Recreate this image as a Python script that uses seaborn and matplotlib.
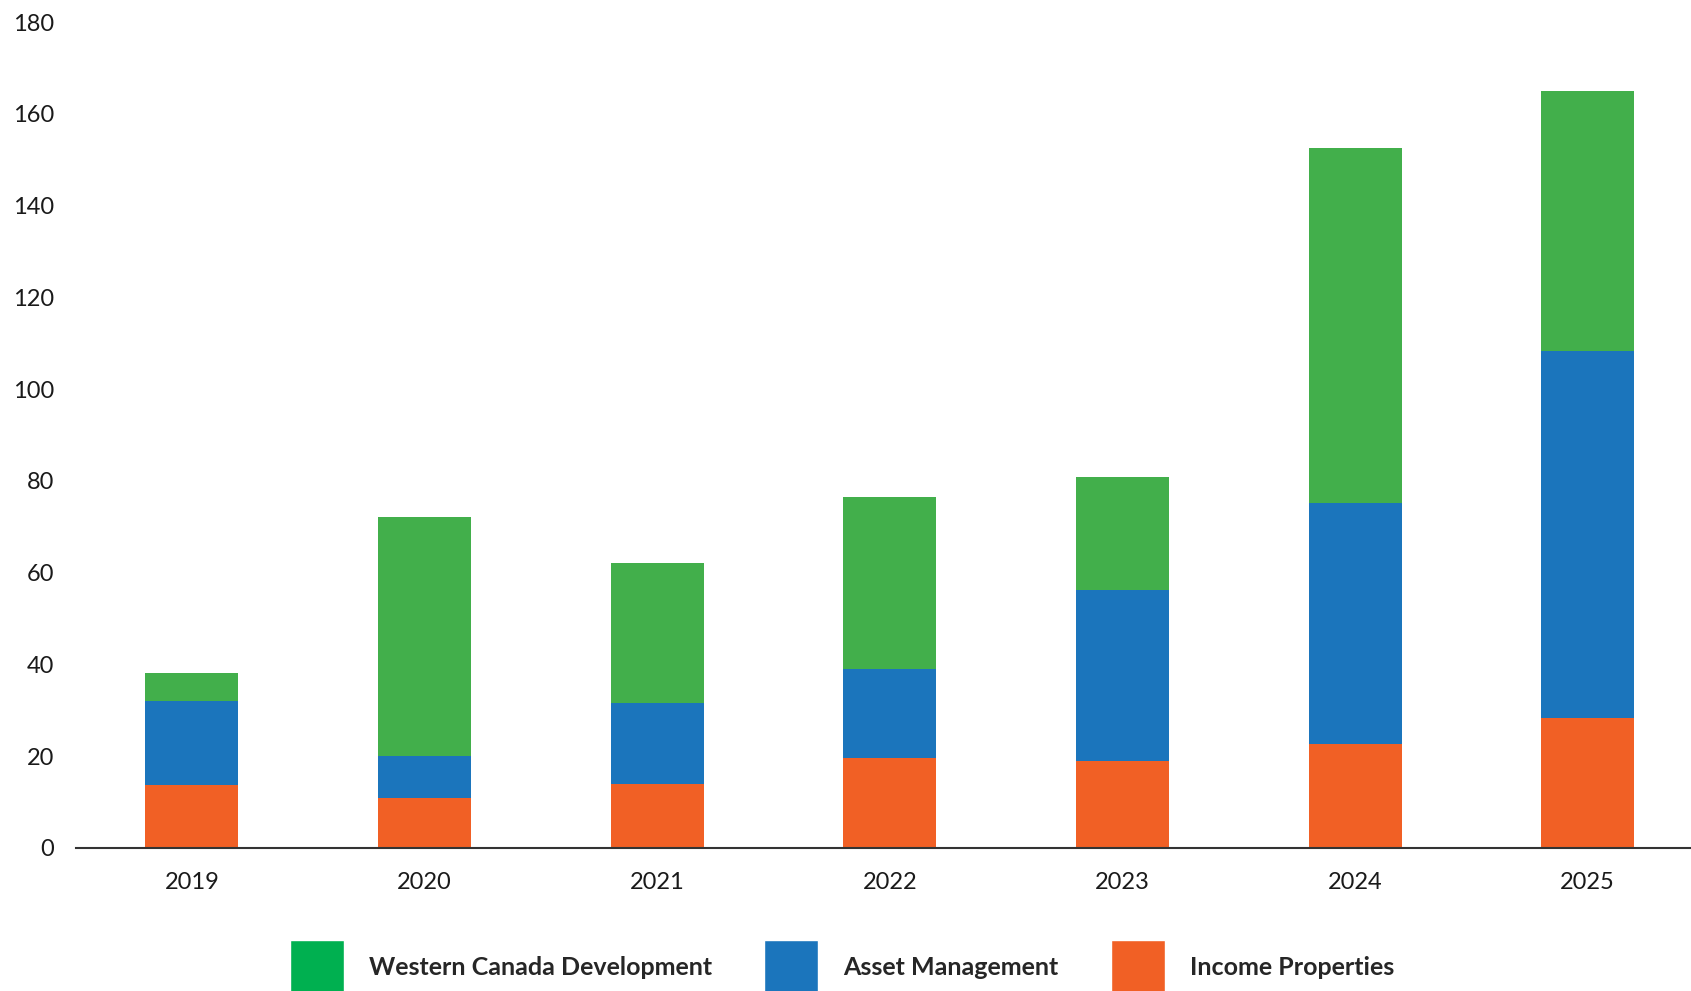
import matplotlib
matplotlib.use("Agg")
import matplotlib.pyplot as plt
from matplotlib.patches import Patch
import seaborn as sns

# Yearly totals by business segment
years = ["2019", "2020", "2021", "2022", "2023", "2024", "2025"]
income_properties = [13.7, 10.9, 13.9, 19.6, 18.9, 22.6, 28.3]
asset_management = [18.3, 9.1, 17.7, 19.3, 37.4, 52.5, 80.1]
western_canada_dev = [6.1, 52.2, 30.4, 37.6, 24.5, 77.5, 56.5]

series_names = ["Western Canada Development", "Asset Management", "Income Properties"]
y_ticks = [0, 20, 40, 60, 80, 100, 120, 140, 160, 180]

c_orange = "#F16025"
c_blue = "#1B75BC"
c_green = "#42AF4B"
c_green_key = "#00B050"

sns.set_theme(style="white")
plt.rcParams["font.family"] = ["Lato", "DejaVu Sans"]

fig = plt.figure(figsize=(16.91, 9.91), dpi=100)
ax = fig.add_axes([0.0451, 0.1443, 0.9549, 0.8335])

bottom_am = income_properties
bottom_wcd = [a + b for a, b in zip(income_properties, asset_management)]

sns.barplot(x=years, y=income_properties, color=c_orange, width=0.4,
            saturation=1, ax=ax, linewidth=0)
sns.barplot(x=years, y=asset_management, bottom=bottom_am, color=c_blue,
            width=0.4, saturation=1, ax=ax, linewidth=0)
sns.barplot(x=years, y=western_canada_dev, bottom=bottom_wcd, color=c_green,
            width=0.4, saturation=1, ax=ax, linewidth=0)

ax.set_ylim(0, 180)
ax.set_xlim(-0.497, 6.444)
ax.set_yticks(y_ticks)
ax.set_yticklabels([str(t) for t in y_ticks])
ax.set_xlabel("")
ax.set_ylabel("")

for s in ["top", "right", "left"]:
    ax.spines[s].set_visible(False)
ax.spines["bottom"].set_color("#333333")
ax.spines["bottom"].set_linewidth(1.5)

ax.tick_params(axis="both", length=0, labelsize=17, colors="#1a1a1a")
ax.tick_params(axis="y", pad=16)
ax.tick_params(axis="x", pad=17)
ax.grid(False)

handles = [Patch(facecolor=c_green_key), Patch(facecolor=c_blue), Patch(facecolor=c_orange)]
leg = fig.legend(handles, series_names, loc="center left",
                 bbox_to_anchor=(0.1715, 0.0235), ncol=3, frameon=False,
                 borderpad=0, borderaxespad=0, handlelength=2.15,
                 handleheight=3.0, handletextpad=1.0, columnspacing=2.1,
                 prop={"size": 18, "weight": "bold"})

fig.savefig("out.png", dpi=100)
